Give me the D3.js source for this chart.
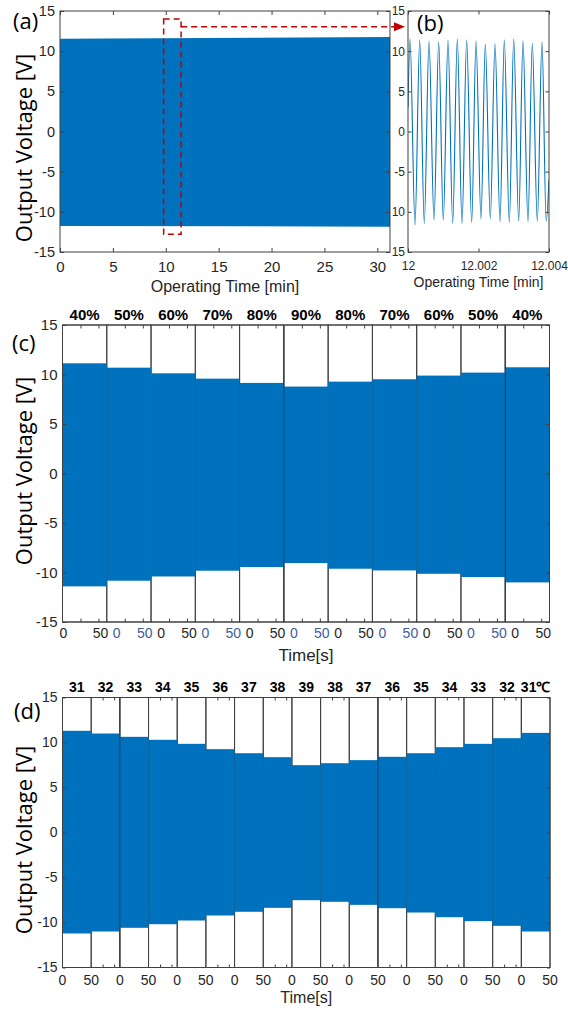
<!DOCTYPE html>
<html>
<head>
<meta charset="utf-8">
<script src="https://cdn.jsdelivr.net/npm/d3@7"></script>
<style>
  html, body { margin: 0; padding: 0; background: #fff; }
  svg { display: block; }
</style>
</head>
<body>
<div id="chart"></div>
<script>
// (a) 30 min endurance run: envelope of the output voltage
const longRunTime = [0, 31.2];
const longRunUpper = [11.55, 11.75];
const longRunLower = [-11.75, -11.85];
const longRunTicks = [0, 5, 10, 15, 20, 25, 30];
const zoomWindowTime = [9.8, 11.45];
const zoomWindowVolt = [-12.8, 14.0];
const zoomArrowVolt = 13.05;

// (b) detail around 12 min: extrema of the waveform
const detailTime = [
  12.0, 12.000057, 12.000199, 12.000332, 12.000462, 12.000596, 12.000738,
  12.000871, 12.001001, 12.001135, 12.001268, 12.001399, 12.001532, 12.001665,
  12.001807, 12.001929, 12.002071, 12.002193, 12.002335, 12.002468, 12.00261,
  12.002732, 12.002874, 12.002999, 12.00314, 12.003262, 12.003404, 12.003526,
  12.003668, 12.003801, 12.00392, 12.004
];
const detailVolt = [
  3.0, 11.51, -11.65, 11.39, -11.44, 11.26, -11.03,
  11.18, -11.03, 11.35, -11.44, 11.51, -11.44, 11.39,
  -11.31, 11.26, -10.9, 10.85, -10.82, 10.93, -11.24,
  11.39, -11.31, 11.51, -11.15, 11.3, -11.24, 10.98,
  -11.15, 11.18, -11.15, -6.0
];
const detailTicks = [12, 12.002, 12.004];

// (c) humidity steps
const humidityLabels = ["40%", "50%", "60%", "70%", "80%", "90%", "80%", "70%", "60%", "50%", "40%"];
const humidityUpper = [11.13, 10.69, 10.12, 9.58, 9.15, 8.78, 9.28, 9.52, 9.89, 10.19, 10.73];
const humidityLower = [-11.4, -10.83, -10.4, -9.82, -9.45, -9.05, -9.62, -9.79, -10.13, -10.46, -11.0];

// (d) temperature steps
const tempLabels = ["31", "32", "33", "34", "35", "36", "37", "38", "39", "38", "37", "36", "35", "34", "33", "32", "31℃"];
const tempUpper = [11.3, 11.0, 10.63, 10.3, 9.85, 9.26, 8.81, 8.37, 7.48, 7.7, 8.04, 8.41, 8.81, 9.48, 9.85, 10.48, 11.07];
const tempLower = [-11.22, -11.0, -10.59, -10.19, -9.78, -9.22, -8.81, -8.37, -7.52, -7.7, -8.04, -8.41, -8.89, -9.41, -9.85, -10.37, -11.0];

const voltTicks = [-15, -10, -5, 0, 5, 10, 15];

(function() {
  const BLUE = "#0072bd";
  const AXIS = "#404040";
  const TEXT = "#262626";
  const RED = "#c00000";
  const SANS = "'Liberation Sans', Arial, sans-serif";
  const TITLE = "'Open Sans', sans-serif";

  let svg = d3.select("#chart")
    .append("svg")
    .attr("width", 568)
    .attr("height", 1011);

  function styleAxis(g, size) {
    g.attr("font-family", SANS).attr("font-size", size);
    g.select(".domain").remove();
    g.selectAll(".tick line").attr("stroke", AXIS);
    g.selectAll(".tick text").attr("fill", TEXT);
  }

  function voltAxes(g, y, x0, x1, size, pad, tick) {
    g.append("g")
      .attr("transform", "translate(" + x0 + ",0)")
      .call(d3.axisLeft(y).tickValues(voltTicks).tickSize(-tick).tickSizeOuter(0)
        .tickPadding(pad).tickFormat(d => String(d)))
      .call(styleAxis, size);
    g.append("g")
      .attr("transform", "translate(" + x1 + ",0)")
      .call(d3.axisRight(y).tickValues(voltTicks).tickSize(-tick).tickSizeOuter(0).tickFormat(""))
      .call(styleAxis, size);
  }

  function box(g, x0, x1, y0, y1) {
    g.append("rect")
      .attr("x", x0).attr("y", y0)
      .attr("width", x1 - x0).attr("height", y1 - y0)
      .attr("fill", "none")
      .attr("stroke", AXIS);
  }

  function yTitle(g, cy) {
    g.append("text")
      .attr("transform", "translate(31.5," + cy + ") rotate(-90)")
      .attr("text-anchor", "middle")
      .attr("font-family", TITLE)
      .attr("font-size", 22)
      .attr("fill", "#000")
      .text("Output Voltage [V]");
  }

  function panelLetter(g, x, y, s) {
    g.append("text")
      .attr("x", x).attr("y", y)
      .attr("font-family", TITLE)
      .attr("font-size", 22)
      .attr("fill", "#000")
      .text(s);
  }

  function xTitle(g, cx, y, size, s) {
    g.append("text")
      .attr("x", cx).attr("y", y)
      .attr("text-anchor", "middle")
      .attr("font-family", SANS)
      .attr("font-size", size)
      .attr("fill", TEXT)
      .text(s);
  }

  //
  // (b) zoomed waveform, drawn first so (a) covers its clipped labels
  //
  function drawDetail() {
    let L = { left: 408, right: 549, top: 11, bottom: 252 };
    let x = d3.scaleLinear().domain(d3.extent(detailTicks)).range([L.left, L.right]);
    let y = d3.scaleLinear().domain([-15, 15]).range([L.bottom, L.top]);
    let g = svg.append("g").attr("id", "detail");

    g.append("defs").append("clipPath").attr("id", "clipB")
      .append("rect").attr("x", L.left).attr("y", L.top)
      .attr("width", L.right - L.left).attr("height", L.bottom - L.top);

    let line = d3.line()
      .x(d => x(d[0]))
      .y(d => y(d[1]))
      .curve(d3.curveMonotoneX);

    g.append("path")
      .datum(d3.zip(detailTime, detailVolt))
      .attr("clip-path", "url(#clipB)")
      .attr("d", line)
      .attr("fill", "none")
      .attr("stroke", BLUE)
      .attr("stroke-width", 1.1);

    voltAxes(g, y, L.left, L.right, 12, 3, 3.5);
    g.append("g")
      .attr("transform", "translate(0," + L.bottom + ")")
      .call(d3.axisBottom(x).tickValues(detailTicks).tickSize(-3.5).tickSizeOuter(0)
        .tickPadding(9.5).tickFormat(d => d3.format(".3~f")(d)))
      .call(styleAxis, 12);
    g.append("g")
      .attr("transform", "translate(0," + L.top + ")")
      .call(d3.axisTop(x).tickValues(detailTicks).tickSize(-3.5).tickSizeOuter(0).tickFormat(""))
      .call(styleAxis, 12);
    box(g, L.left, L.right, L.top, L.bottom);

    xTitle(g, (L.left + L.right) / 2, 287, 14, "Operating Time [min]");
    panelLetter(g, 417, 31, "(b)");
    return { x: x, y: y, L: L };
  }

  //
  // (a) long run envelope
  //
  function drawLongRun() {
    let L = { left: 60, right: 390, top: 11, bottom: 252 };
    let x = d3.scaleLinear().domain(d3.extent(longRunTime)).range([L.left, L.right]);
    let y = d3.scaleLinear().domain([-15, 15]).range([L.bottom, L.top]);
    let g = svg.append("g").attr("id", "longrun");

    // axes background, also hides the minus signs of (b)'s lower labels
    g.append("rect")
      .attr("x", L.left).attr("y", L.top)
      .attr("width", L.right - L.left + 2.5).attr("height", L.bottom - L.top + 2)
      .attr("fill", "#fff");

    let area = d3.area()
      .x(d => x(d[0]))
      .y0(d => y(d[2]))
      .y1(d => y(d[1]));

    g.append("path")
      .datum(d3.zip(longRunTime, longRunUpper, longRunLower))
      .attr("d", area)
      .attr("fill", BLUE);

    voltAxes(g, y, L.left, L.right, 14.5, 5, 4);
    g.append("g")
      .attr("transform", "translate(0," + L.bottom + ")")
      .call(d3.axisBottom(x).tickValues(longRunTicks).tickSize(-4).tickSizeOuter(0).tickPadding(9.5))
      .call(styleAxis, 15);
    g.append("g")
      .attr("transform", "translate(0," + L.top + ")")
      .call(d3.axisTop(x).tickValues(longRunTicks).tickSize(-4).tickSizeOuter(0).tickFormat(""))
      .call(styleAxis, 15);
    box(g, L.left, L.right, L.top, L.bottom);

    xTitle(g, (L.left + L.right) / 2, 292, 16, "Operating Time [min]");
    yTitle(g, 148);
    panelLetter(g, 13, 29, "(a)");
    return { x: x, y: y, L: L };
  }

  function drawZoomMarker(a, b) {
    let g = svg.append("g").attr("id", "zoom-marker");
    let x0 = a.x(zoomWindowTime[0]), x1 = a.x(zoomWindowTime[1]);
    let y0 = a.y(zoomWindowVolt[1]), y1 = a.y(zoomWindowVolt[0]);
    let ya = a.y(zoomArrowVolt);
    let tip = b.L.left - 3;

    g.append("rect")
      .attr("x", x0).attr("y", y0)
      .attr("width", x1 - x0).attr("height", y1 - y0)
      .attr("fill", "none")
      .attr("stroke", RED)
      .attr("stroke-width", 1.5)
      .attr("stroke-dasharray", "6,4");

    g.append("line")
      .attr("x1", x1).attr("y1", ya)
      .attr("x2", tip - 10).attr("y2", ya)
      .attr("stroke", RED)
      .attr("stroke-width", 1.5)
      .attr("stroke-dasharray", "6,4");

    g.append("path")
      .attr("d", "M" + (tip - 11) + "," + (ya - 4.5) + "L" + tip + "," + ya + "L" + (tip - 11) + "," + (ya + 4.5) + "Z")
      .attr("fill", RED);
  }

  //
  // (c) and (d): one small axes per step, side by side
  //
  function drawSteps(cfg) {
    let n = cfg.labels.length;
    let w = (cfg.right - cfg.left) / n;
    let y = d3.scaleLinear().domain([-15, 15]).range([cfg.bottom, cfg.top]);
    let g = svg.append("g").attr("id", cfg.id);

    let segs = d3.range(n).map(i => ({
      i: i,
      x: d3.scaleLinear().domain(cfg.domain(i)).range([cfg.left + i * w, cfg.left + (i + 1) * w])
    }));

    segs.forEach(function(s) {
      let r = s.x.range();
      box(g, r[0], r[1], cfg.top, cfg.bottom);
      let ticks = cfg.ticks(s.i);
      g.append("g")
        .attr("transform", "translate(0," + cfg.bottom + ")")
        .call(d3.axisBottom(s.x).tickValues(ticks).tickSize(-cfg.tick).tickSizeOuter(0).tickFormat(""))
        .call(styleAxis, 10);
      g.append("g")
        .attr("transform", "translate(0," + cfg.top + ")")
        .call(d3.axisTop(s.x).tickValues(ticks).tickSize(-cfg.tick).tickSizeOuter(0).tickFormat(""))
        .call(styleAxis, 10);
    });

    g.selectAll("rect.band")
      .data(segs)
      .join("rect")
      .attr("class", "band")
      .attr("x", s => s.x(s.x.domain()[0]))
      .attr("width", s => s.x(s.x.domain()[1]) - s.x(s.x.domain()[0]))
      .attr("y", s => y(cfg.upper[s.i]))
      .attr("height", s => y(cfg.lower[s.i]) - y(cfg.upper[s.i]))
      .attr("fill", BLUE);

    // a few of the axes borders show through the trace
    cfg.dividers.forEach(function(k) {
      let xk = segs[k].x.range()[0];
      g.append("line")
        .attr("x1", xk).attr("x2", xk)
        .attr("y1", cfg.top).attr("y2", cfg.bottom)
        .attr("stroke", "#1f3550")
        .attr("stroke-width", 0.8);
    });

    box(g, cfg.left, cfg.right, cfg.top, cfg.bottom);
    voltAxes(g, y, cfg.left, cfg.right, cfg.yFont, 5, cfg.tick);

    g.selectAll("text.step")
      .data(segs)
      .join("text")
      .attr("class", "step")
      .attr("x", s => d3.mean(s.x.range()))
      .attr("y", cfg.labelY)
      .attr("text-anchor", "middle")
      .attr("font-family", SANS)
      .attr("font-weight", "bold")
      .attr("font-size", cfg.labelFont)
      .attr("fill", "#000")
      .text(s => cfg.labels[s.i]);

    segs.forEach(function(s) {
      cfg.xLabels(s.i).forEach(function(t) {
        g.append("text")
          .attr("x", s.x(t.v) + t.dx)
          .attr("y", cfg.xLabelY)
          .attr("text-anchor", "middle")
          .attr("font-family", SANS)
          .attr("font-size", 14)
          .attr("fill", t.color)
          .text(String(t.v));
      });
    });

    xTitle(g, (cfg.left + cfg.right) / 2, cfg.titleY, cfg.titleFont, "Time[s]");
    yTitle(g, cfg.titleCy);
    panelLetter(g, cfg.letterX, cfg.letterY, cfg.letter);
  }

  let b = drawDetail();
  let a = drawLongRun();
  drawZoomMarker(a, b);

  drawSteps({
    id: "humidity",
    left: 62.5, right: 549.5, top: 325, bottom: 622,
    labels: humidityLabels, upper: humidityUpper, lower: humidityLower,
    domain: i => [0, 61.5],
    ticks: i => [25, 50],
    xLabels: function(i) {
      let c = i % 2 ? "#3f5c9c" : TEXT;
      return [{ v: 0, dx: i ? 10 : 1, color: c }, { v: 50, dx: 2, color: c }];
    },
    dividers: [5, 10],
    tick: 3.5, yFont: 15,
    labelY: 320, labelFont: 15,
    xLabelY: 637.5,
    titleY: 661, titleFont: 17,
    titleCy: 471,
    letter: "(c)", letterX: 12, letterY: 351
  });

  drawSteps({
    id: "temperature",
    left: 62.5, right: 550, top: 697.5, bottom: 967.5,
    labels: tempLabels, upper: tempUpper, lower: tempLower,
    domain: i => (i % 2 ? [0, 62.5] : [0, 50]),
    ticks: i => (i % 2 ? [25, 50] : []),
    xLabels: function(i) {
      return i % 2 ? [] : [{ v: 0, dx: 0, color: TEXT }, { v: 50, dx: 0, color: TEXT }];
    },
    dividers: [2, 11],
    tick: 3, yFont: 14,
    labelY: 692, labelFont: 14,
    xLabelY: 985,
    titleY: 1003, titleFont: 16,
    titleCy: 840,
    letter: "(d)", letterX: 14, letterY: 719
  });
})();
</script>
</body>
</html>
